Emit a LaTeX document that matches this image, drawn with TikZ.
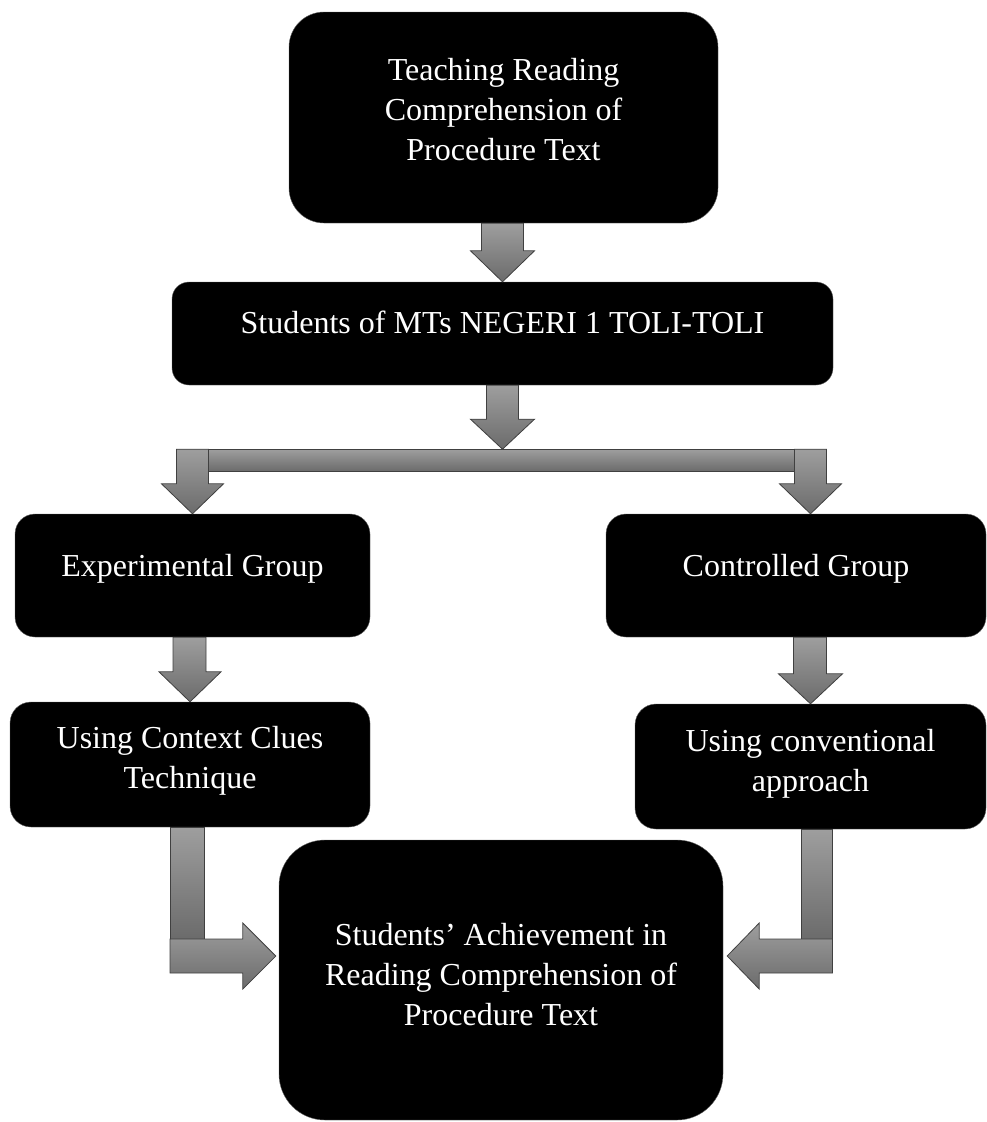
\documentclass[tikz,border=0pt]{standalone}
\usepackage{fontspec}
\setmainfont{Liberation Serif}
\usetikzlibrary{calc}

\begin{document}
\begin{tikzpicture}[x=1pt, y=-1pt,
  box/.style = {fill=black, draw=black!60, inner sep=0pt},
  boxtext/.style = {text=white, align=center, inner sep=0pt, font=\fontsize{32}{40}\selectfont},
  blockarrow/.style = {draw=black!75, line width=0.8pt, top color=black!38, bottom color=black!58, line join=miter}]
\useasboundingbox (0,0) rectangle (987,1122);
% boxes
\node[box, minimum width=429pt, minimum height=211pt, rounded corners=35pt, label={[boxtext, yshift=8pt]center:Teaching Reading\\Comprehension of\\Procedure Text}] (teach) at (503.5,117.5) {};
\node[box, minimum width=661pt, minimum height=103pt, rounded corners=17pt, label={[boxtext, yshift=11pt]center:Students of MTs NEGERI 1 TOLI-TOLI}] (stud) at (502.5,333.5) {};
\node[box, minimum width=355pt, minimum height=123pt, rounded corners=20pt, label={[boxtext, yshift=7pt]center:Experimental Group}] (exp) at (192.5,575.5) {};
\node[box, minimum width=380pt, minimum height=123pt, rounded corners=20pt, label={[boxtext, yshift=7pt]center:Controlled Group}] (ctrl) at (796,575.5) {};
\node[box, minimum width=360pt, minimum height=125pt, rounded corners=21pt, label={[boxtext, yshift=4pt]center:Using Context Clues\\Technique}] (ctx) at (190,764.5) {};
\node[box, minimum width=351pt, minimum height=125pt, rounded corners=21pt, label={[boxtext, yshift=3pt]center:Using conventional\\approach}] (conv) at (810.5,766.5) {};
\node[box, minimum width=444pt, minimum height=280pt, rounded corners=46pt, label={[boxtext, yshift=5pt]center:Students’ Achievement in\\Reading Comprehension of\\Procedure Text}] (ach) at (501,980) {};
\coordinate (split) at ($(stud.south)+(0,64)$);
\coordinate (ltip) at ($(ach.west)+(-3,-24)$);
\coordinate (rtip) at ($(ach.east)+(4,-24)$);
% teach -> stud
\draw[blockarrow] ($(teach.south -| stud.north)+(-21,0)$) -- ($(teach.south -| stud.north)+(21,0)$) -- ($(stud.north)+(21,-31)$) -- ($(stud.north)+(32,-31)$) -- (stud.north) -- ($(stud.north)+(-32,-31)$) -- ($(stud.north)+(-21,-31)$) -- cycle;
% stud -> split bar
\draw[blockarrow] ($(split -| exp.north)+(-16,0)$) rectangle ($(split -| conv.north)+(16,22)$);
\draw[blockarrow] ($(stud.south)+(-16,0)$) -- ($(stud.south)+(16,0)$) -- ($(split)+(16,-30)$) -- ($(split)+(32,-30)$) -- (split) -- ($(split)+(-32,-30)$) -- ($(split)+(-16,-30)$) -- cycle;
% split -> exp, split -> ctrl
\draw[blockarrow] ($(split -| exp.north)+(-16,0)$) -- ($(split -| exp.north)+(16,0)$) -- ($(exp.north)+(16,-30)$) -- ($(exp.north)+(31,-30)$) -- (exp.north) -- ($(exp.north)+(-31,-30)$) -- ($(exp.north)+(-16,-30)$) -- cycle;
\draw[blockarrow] ($(split -| conv.north)+(-16,0)$) -- ($(split -| conv.north)+(16,0)$) -- ($(ctrl.north -| conv.north)+(16,-30)$) -- ($(ctrl.north -| conv.north)+(31,-30)$) -- (ctrl.north -| conv.north) -- ($(ctrl.north -| conv.north)+(-31,-30)$) -- ($(ctrl.north -| conv.north)+(-16,-30)$) -- cycle;
% exp -> ctx, ctrl -> conv
\draw[blockarrow] ($(exp.south -| ctx.north)+(-17,0)$) -- ($(exp.south -| ctx.north)+(16,0)$) -- ($(ctx.north)+(16,-30)$) -- ($(ctx.north)+(31,-30)$) -- (ctx.north) -- ($(ctx.north)+(-31,-30)$) -- ($(ctx.north)+(-17,-30)$) -- cycle;
\draw[blockarrow] ($(ctrl.south -| conv.north)+(-17,0)$) -- ($(ctrl.south -| conv.north)+(16,0)$) -- ($(conv.north)+(16,-30)$) -- ($(conv.north)+(32,-30)$) -- (conv.north) -- ($(conv.north)+(-32,-30)$) -- ($(conv.north)+(-17,-30)$) -- cycle;
% ctx -> ach
\draw[blockarrow] ($(ctx.south)+(-20,0)$) rectangle ($(ctx.south |- ltip)+(14,-17)$);
\draw[blockarrow] ($(ctx.south |- ltip)+(-20,-17)$) -- ($(ltip)+(-33,-17)$) -- ($(ltip)+(-33,-33)$) -- (ltip) -- ($(ltip)+(-33,33)$) -- ($(ltip)+(-33,17)$) -- ($(ctx.south |- ltip)+(-20,17)$) -- cycle;
% conv -> ach
\draw[blockarrow] ($(conv.south)+(-9,0)$) rectangle ($(conv.south |- rtip)+(22,-17)$);
\draw[blockarrow] ($(conv.south |- rtip)+(22,-17)$) -- ($(rtip)+(32,-17)$) -- ($(rtip)+(32,-33)$) -- (rtip) -- ($(rtip)+(32,33)$) -- ($(rtip)+(32,17)$) -- ($(conv.south |- rtip)+(22,17)$) -- cycle;
\end{tikzpicture}
\end{document}
